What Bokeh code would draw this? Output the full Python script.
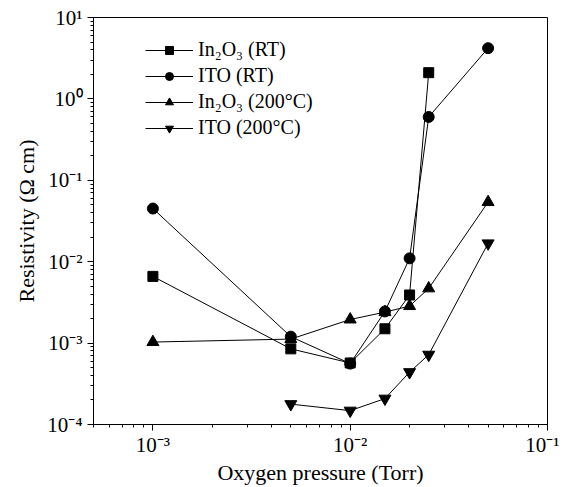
from bokeh.plotting import figure
from bokeh.models import (Legend, LegendItem, FixedTicker, CustomJSTickFormatter, Range1d)
from bokeh.embed import file_html
from bokeh.resources import INLINE

# ---- data ----
x_in_rt = [1e-3, 5e-3, 1e-2, 1.5e-2, 2e-2, 2.5e-2]
y_in_rt = [6.6e-3, 8.5e-4, 5.7e-4, 1.5e-3, 3.9e-3, 2.1]

x_ito_rt = [1e-3, 5e-3, 1e-2, 1.5e-2, 2e-2, 2.5e-2, 5e-2]
y_ito_rt = [0.045, 1.2e-3, 5.6e-4, 2.45e-3, 0.011, 0.6, 4.2]

x_in_200 = [1e-3, 5e-3, 1e-2, 1.5e-2, 2e-2, 2.5e-2, 5e-2]
y_in_200 = [1.03e-3, 1.12e-3, 1.95e-3, 2.4e-3, 2.85e-3, 4.7e-3, 0.054]

x_ito_200 = [5e-3, 1e-2, 1.5e-2, 2e-2, 2.5e-2, 5e-2]
y_ito_200 = [1.78e-4, 1.48e-4, 2.08e-4, 4.4e-4, 7.2e-4, 0.0168]

labels = ["In\u2082O\u2083 (RT)", "ITO (RT)", "In\u2082O\u2083 (200\u00b0C)", "ITO (200\u00b0C)"]
x_title = "Oxygen pressure (Torr)"
y_title = "Resistivity (\u03a9 cm)"

x_major = [1e-3, 1e-2, 1e-1]
y_major = [1e-4, 1e-3, 1e-2, 1e-1, 1e0, 1e1]

FONT = "Liberation Serif"

p = figure(width=559, height=487, x_axis_type="log", y_axis_type="log",
           x_range=Range1d(5e-4, 1e-1), y_range=Range1d(1e-4, 1e1),
           output_backend="svg", toolbar_location=None,
           min_border_left=93, min_border_right=12, min_border_top=17, min_border_bottom=61)

p.xgrid.visible = False
p.ygrid.visible = False
p.outline_line_color = "black"
p.outline_line_width = 1
p.background_fill_color = "white"
p.border_fill_color = "white"

fmt = CustomJSTickFormatter(code="""
const sup = {'0':'\u2070','1':'\u00b9','2':'\u00b2','3':'\u00b3','4':'\u2074','5':'\u2075','6':'\u2076','7':'\u2077','8':'\u2078','9':'\u2079','-':'\u207b'};
const e = Math.round(Math.log10(tick));
const s = String(e).split('').map(c => sup[c]).join('');
return '10' + s;
""")

def minors(majors):
    out = []
    for m in majors[:-1]:
        out += [m * k for k in range(2, 10)]
    return out

p.xaxis.ticker = FixedTicker(ticks=x_major, minor_ticks=minors([1e-4] + x_major))
p.yaxis.ticker = FixedTicker(ticks=y_major, minor_ticks=minors(y_major))
for ax in (p.xaxis[0], p.yaxis[0]):
    ax.formatter = fmt
    ax.major_label_text_font = FONT
    ax.major_label_text_font_size = "21px"
    ax.major_label_text_color = "black"
    ax.axis_label_text_font = FONT
    ax.axis_label_text_font_size = "22px"
    ax.axis_label_text_font_style = "normal"
    ax.axis_label_text_color = "black"
    ax.axis_line_color = "black"
    ax.major_tick_line_color = "black"
    ax.minor_tick_line_color = "black"
    ax.major_tick_out = 6
    ax.major_tick_in = 0
    ax.minor_tick_out = 3
    ax.minor_tick_in = 0

p.xaxis.major_label_standoff = 2
p.yaxis.major_label_standoff = 5
p.xaxis.axis_label_standoff = 0
p.yaxis.axis_label_standoff = 5
p.xaxis.axis_label = x_title
p.yaxis.axis_label = y_title

# series
l1 = p.line(x_in_rt, y_in_rt, line_color="black", line_width=1)
m1 = p.scatter(x_in_rt, y_in_rt, marker="square", size=10, color="black")
l3 = p.line(x_in_200, y_in_200, line_color="black", line_width=1)
m3 = p.scatter(x_in_200, y_in_200, marker="triangle", size=12, color="black")
l4 = p.line(x_ito_200, y_ito_200, line_color="black", line_width=1)
m4 = p.scatter(x_ito_200, y_ito_200, marker="inverted_triangle", size=12, color="black")
l2 = p.line(x_ito_rt, y_ito_rt, line_color="black", line_width=1)
m2 = p.scatter(x_ito_rt, y_ito_rt, marker="circle", size=11, color="black")

legend = Legend(items=[
    LegendItem(label=labels[0], renderers=[l1, m1]),
    LegendItem(label=labels[1], renderers=[l2, m2]),
    LegendItem(label=labels[2], renderers=[l3, m3]),
    LegendItem(label=labels[3], renderers=[l4, m4]),
], location=(52, 285))
legend.border_line_color = None
legend.background_fill_alpha = 0
legend.padding = 0
legend.spacing = 3
legend.glyph_width = 48
legend.glyph_height = 20
legend.label_standoff = 5
legend.label_text_font = FONT
legend.label_text_font_size = "20px"
legend.label_text_color = "black"
legend.label_height = 20
p.add_layout(legend)

open("out.html", "w").write(file_html(p, INLINE))
